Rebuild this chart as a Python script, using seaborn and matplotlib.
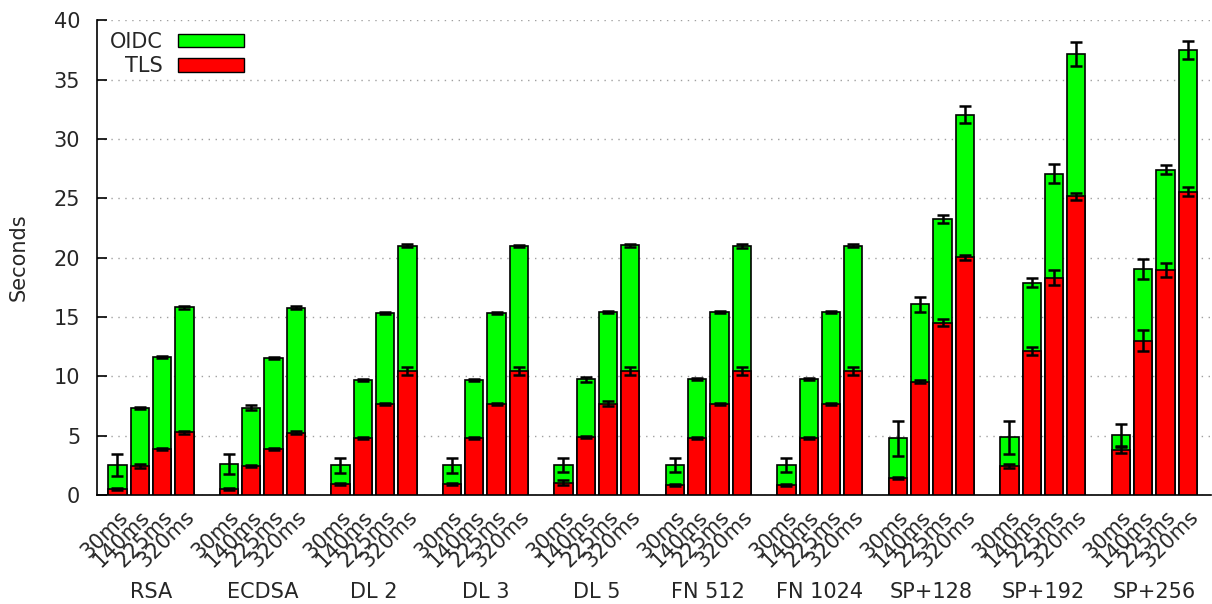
import numpy as np
import pandas as pd
import seaborn as sns
from matplotlib import pyplot as plt
from matplotlib.patches import Patch

groups = ["RSA", "ECDSA", "DL 2", "DL 3", "DL 5", "FN 512", "FN 1024", "SP+128", "SP+192", "SP+256"]
latencies = ["30ms", "140ms", "225ms", "320ms"]

# OIDC = total time (top of the stack), TLS = lower part
oidc_total = [
    [2.53, 7.36, 11.63, 15.80],
    [2.58, 7.36, 11.55, 15.78],
    [2.50, 9.72, 15.33, 21.00],
    [2.50, 9.72, 15.33, 21.00],
    [2.50, 9.75, 15.42, 21.03],
    [2.50, 9.75, 15.42, 21.00],
    [2.50, 9.75, 15.42, 21.00],
    [4.77, 16.06, 23.25, 32.04],
    [4.86, 17.89, 27.07, 37.15],
    [5.05, 19.04, 27.41, 37.49],
]
oidc_err = [
    [0.90, 0.08, 0.08, 0.12],
    [0.85, 0.18, 0.10, 0.15],
    [0.65, 0.08, 0.08, 0.12],
    [0.65, 0.08, 0.08, 0.10],
    [0.60, 0.20, 0.08, 0.10],
    [0.60, 0.10, 0.08, 0.15],
    [0.60, 0.08, 0.08, 0.12],
    [1.50, 0.65, 0.30, 0.70],
    [1.40, 0.40, 0.80, 1.00],
    [0.95, 0.85, 0.40, 0.75],
]
tls = [
    [0.48, 2.44, 3.85, 5.28],
    [0.48, 2.44, 3.85, 5.25],
    [0.90, 4.83, 7.64, 10.45],
    [0.90, 4.83, 7.64, 10.45],
    [1.04, 4.86, 7.70, 10.45],
    [0.87, 4.83, 7.66, 10.45],
    [0.87, 4.83, 7.64, 10.45],
    [1.43, 9.55, 14.52, 20.02],
    [2.44, 12.13, 18.31, 25.16],
    [3.79, 13.00, 18.95, 25.55],
]
tls_err = [
    [0.08, 0.15, 0.08, 0.12],
    [0.08, 0.08, 0.08, 0.12],
    [0.08, 0.08, 0.08, 0.30],
    [0.08, 0.08, 0.08, 0.30],
    [0.20, 0.08, 0.20, 0.30],
    [0.08, 0.08, 0.08, 0.30],
    [0.08, 0.08, 0.08, 0.30],
    [0.10, 0.10, 0.30, 0.20],
    [0.20, 0.35, 0.65, 0.30],
    [0.25, 0.90, 0.60, 0.40],
]

GREEN = "#00ff00"
RED = "#ff0000"
FS = 15

rows = []
for g, name in enumerate(groups):
    for j, lat in enumerate(latencies):
        rows.append({
            "group": name,
            "latency": lat,
            "pos": g * 5 + j,
            "total": oidc_total[g][j],
            "total_err": oidc_err[g][j],
            "tls": tls[g][j],
            "tls_err": tls_err[g][j],
        })
df = pd.DataFrame(rows)

sns.set_style("white")
plt.rcParams["font.family"] = ["DejaVu Sans"]

fig = plt.figure(figsize=(12.12, 6.04), dpi=100)
ax = fig.add_axes([0.080, 0.1805, 0.919, 0.786])

sns.barplot(data=df, x="pos", y="total", native_scale=True, width=0.82,
            color=GREEN, saturation=1, edgecolor="black", linewidth=1.2,
            errorbar=None, ax=ax, zorder=2)
sns.barplot(data=df, x="pos", y="tls", native_scale=True, width=0.82,
            color=RED, saturation=1, edgecolor="black", linewidth=1.2,
            errorbar=None, ax=ax, zorder=3)

ax.errorbar(df["pos"], df["tls"], yerr=df["tls_err"], fmt="none", ecolor="black",
            elinewidth=1.8, capsize=4.2, capthick=1.8, zorder=4)
ax.errorbar(df["pos"], df["total"], yerr=df["total_err"], fmt="none", ecolor="black",
            elinewidth=1.8, capsize=4.2, capthick=1.8, zorder=4)

ax.set_xlim(-0.92, 49.03)
ax.set_ylim(0, 40)
ax.set_yticks(np.arange(0, 41, 5))
ax.yaxis.grid(True, linestyle=(0, (1, 4)), color="#a0a0a0", linewidth=1.0)
ax.set_axisbelow(True)

ax.set_xticks(df["pos"])
ax.set_xticklabels(df["latency"], rotation=45, ha="right", va="top",
                   rotation_mode="anchor", fontsize=FS)
ax.set_xticks([g * 5 + 4 for g in range(len(groups) - 1)], minor=True)
ax.tick_params(axis="x", which="major", length=0, pad=8.5)
ax.tick_params(axis="x", which="minor", direction="in", length=7, width=1.2, color="black")
ax.tick_params(axis="y", direction="in", length=7, width=1.2, labelsize=FS, pad=12,
               color="black", left=True)
ax.set_xlabel("")
ax.set_ylabel("Seconds", fontsize=FS, labelpad=18)

for g, name in enumerate(groups):
    ax.text(g * 5 + 1.5, -0.204, name, transform=ax.get_xaxis_transform(),
            ha="center", va="center", fontsize=FS)

for side in ["top", "right"]:
    ax.spines[side].set_visible(False)
for side in ["left", "bottom"]:
    ax.spines[side].set_color("black")
    ax.spines[side].set_linewidth(1.2)

handles = [Patch(facecolor=GREEN, edgecolor="black", linewidth=1.0, label="OIDC"),
           Patch(facecolor=RED, edgecolor="black", linewidth=1.0, label="TLS")]
ax.legend(handles=handles, loc="upper left", bbox_to_anchor=(0.012, 0.975),
          frameon=False, markerfirst=False, fontsize=FS, handlelength=3.2,
          handleheight=0.6, handletextpad=0.7, labelspacing=0.2,
          borderpad=0, borderaxespad=0)

fig.savefig("out.png", dpi=100)
